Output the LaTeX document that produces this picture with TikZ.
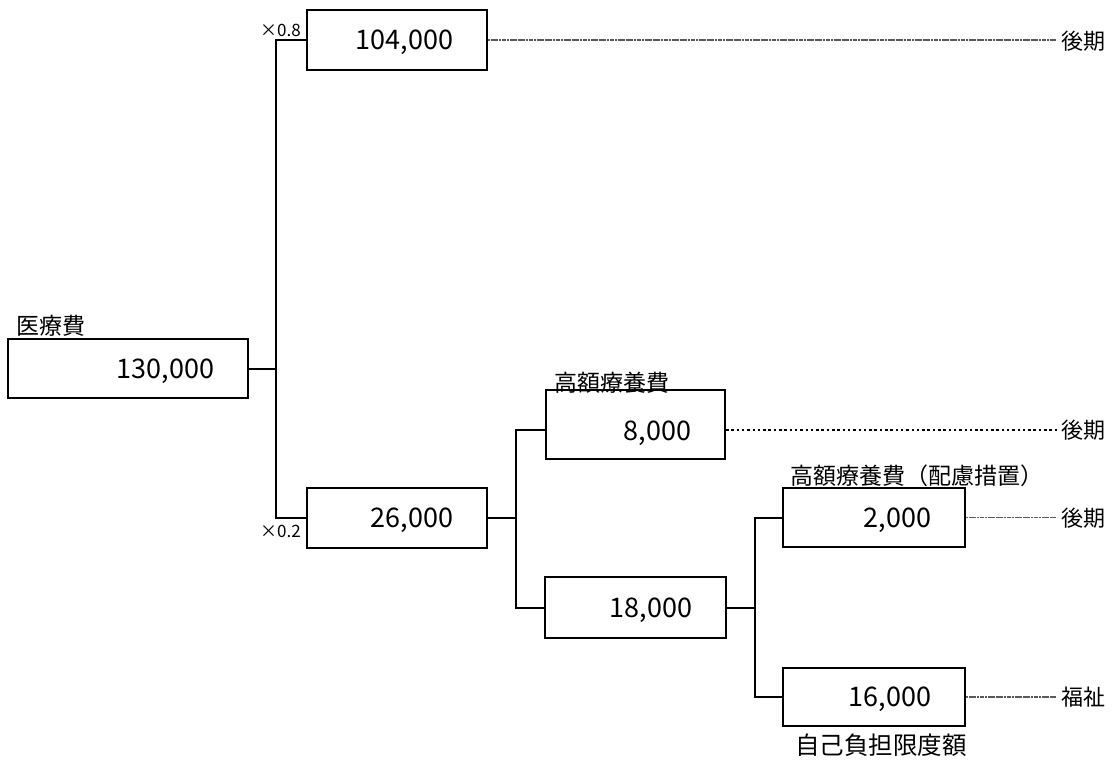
\documentclass[tikz,border=0pt]{standalone}
\usepackage{fontspec}
\setmainfont{Noto Sans CJK JP}
\begin{document}
\begin{tikzpicture}[x=1pt,y=-1pt,
  numbox/.style={draw, line width=2pt, minimum height=60pt, text width=#1, align=right,
    inner xsep=34pt, inner ysep=0pt, text height=19.8pt, text depth=0pt,
    font=\fontsize{27}{30}\selectfont},
  conn/.style={line width=2pt},
  wavyline/.style={line width=1.3pt, black!65, dash pattern=on 2.2pt off 0.5pt},
  dotline/.style={line width=2.4pt, dash pattern=on 2.5pt off 2.8pt},
  lbl/.style={inner sep=0pt, font=\fontsize{23}{26}\selectfont},
  endlbl/.style={inner sep=0pt, anchor=west, font=\fontsize{22}{24}\selectfont},
  mult/.style={inner sep=0pt, anchor=east, font=\fontsize{17}{19}\selectfont}]

\useasboundingbox (0,0) rectangle (1116,765);

% boxes
\node[numbox=172pt, minimum height=59pt] (med) at (128,368.5) {130,000};
\node[numbox=112pt] (a) at (397,40) {104,000};
\node[numbox=112pt] (b) at (397,518) {26,000};
\node[numbox=111pt, minimum height=69pt, text height=32pt] (c) at (635.5,424) {8,000};
\node[numbox=113pt, minimum height=61pt] (d) at (635.5,607.5) {18,000};
\node[numbox=114pt, minimum height=59pt] (e) at (874,517.5) {2,000};
\node[numbox=114pt, minimum height=58pt] (f) at (874,697) {16,000};

% junctions
\coordinate (j1) at (276,368.5);
\coordinate (j2) at (516,518);
\coordinate (j3) at (755,607.5);
\path (c.west) ++(0,6) coordinate (cin);
\path (c.east) ++(0,6) coordinate (cout);

% tree connectors
\draw[conn] (med.east) -- (j1);
\draw[conn] (a.west) -| (j1) |- (b.west);
\draw[conn] (b.east) -- (j2);
\draw[conn] (cin) -| (j2) |- (d.west);
\draw[conn] (d.east) -- (j3);
\draw[conn] (e.west) -| (j3) |- (f.west);

% end labels
\node[endlbl] (k1) at (1061,41) {後期};
\node[endlbl] (k2) at (1061,430) {後期};
\node[endlbl] (k3) at (1061,518) {後期};
\node[endlbl] (k4) at (1061,697) {福祉};

\draw[wavyline] (a.east) -- ([xshift=-5pt]a.east -| k1.west);
\draw[dotline] (cout) -- ([xshift=-2pt]cout -| k2.west);
\draw[wavyline] (e.east) -- ([xshift=-5pt]e.east -| k3.west);
\draw[wavyline] (f.east) -- ([xshift=-5pt]f.east -| k4.west);

% captions
\node[lbl, anchor=west] (l1) at (16,326) {医療費};
\node[lbl] (l2) at (611.5,383) {高額療養費};
\node[lbl] (l3) at (917,476) {高額療養費（配慮措置）};
\node[lbl, font=\fontsize{24.5}{27}\selectfont] (l4) at (881,745) {自己負担限度額};
\node[mult] (m1) at (301,30) {×0.8};
\node[mult] (m2) at (301,531) {×0.2};
\end{tikzpicture}
\end{document}
